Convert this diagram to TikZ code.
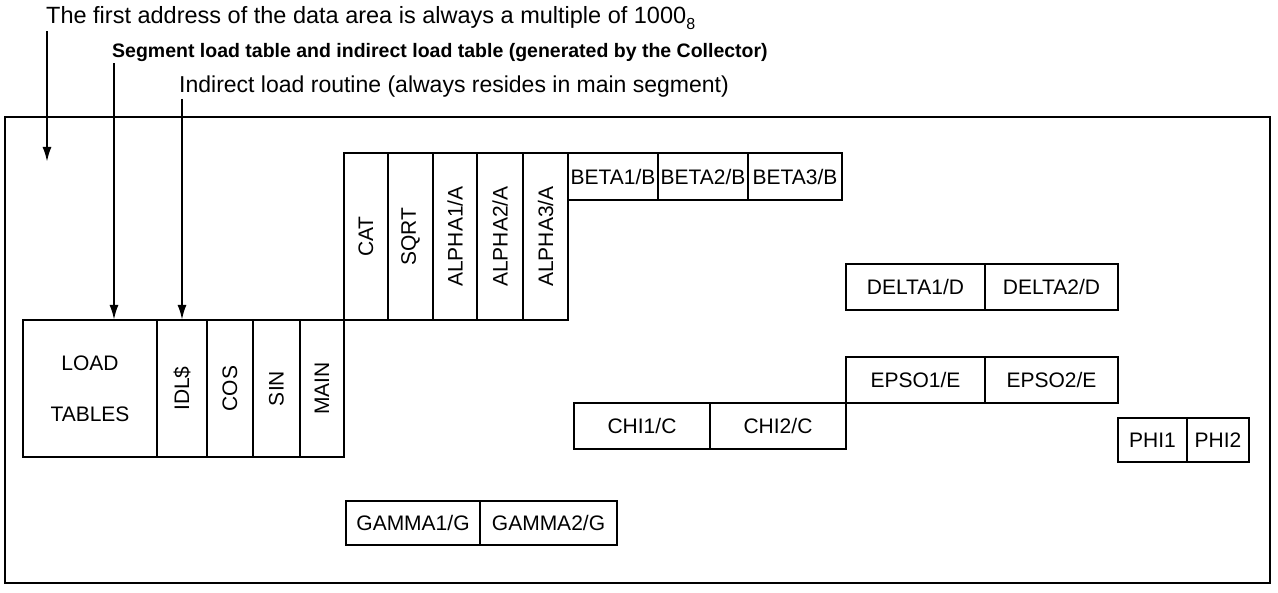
\documentclass[tikz,border=0pt]{standalone}
\usepackage{graphicx}
\usepackage{fontspec}
\setmainfont{Liberation Sans}
\usetikzlibrary{arrows.meta,positioning}
\newcommand\cellfont{\fontsize{21}{25}\selectfont}
\newcommand\up[1]{\rotatebox{90}{#1}}

\begin{document}
\begin{tikzpicture}[x=1pt, y=-1pt, node distance=0pt,
 cell/.style={draw, line width=1.3pt, inner sep=0pt, outer sep=0pt, align=center, font=\cellfont},
 low/.style={cell, minimum height=137pt},
 tall/.style={cell, minimum height=167pt},
 flat/.style={cell, minimum height=46pt},
 note/.style={anchor=base west, inner sep=1pt, font=\fontsize{23.5}{26}\selectfont},
 arr/.style={-{Latex[length=15pt,width=9pt]}, line width=2.2pt}]
\path[use as bounding box, fill=white] (0,0) rectangle (1278,593);
\draw[line width=1.3pt] (5,117) rectangle (1270,583);
% headings
\node[note] (first) at (45,24) {The first address of the data area is always a multiple of 1000\raisebox{-6pt}{\fontsize{16}{16}\selectfont 8}};
\node[note, font=\bfseries\fontsize{19.5}{22}\selectfont] (seg) at (111,58) {Segment load table and indirect load table (generated by the Collector)};
\node[note, font=\fontsize{23}{26}\selectfont] (idr) at (178,93) {Indirect load routine (always resides in main segment)};
% main segment
\node[low, minimum width=134pt, anchor=north west] (load) at (23,320) {LOAD\\[26pt]TABLES};
\node[low, minimum width=50pt, right=of load] (idl) {\up{IDL\$}};
\node[low, minimum width=46pt, right=of idl] (cos) {\up{COS}};
\node[low, minimum width=47pt, right=of cos] (sin) {\up{SIN}};
\node[low, minimum width=44pt, right=of sin] (main) {\up{MAIN}};
\node[tall, minimum width=44pt, anchor=south west] (cat) at (main.north east) {\up{CAT}};
\node[tall, minimum width=45pt, right=of cat] (sqrt) {\up{SQRT}};
\node[tall, minimum width=44pt, right=of sqrt] (alpha1) {\up{ALPHA1/A}};
\node[tall, minimum width=46pt, right=of alpha1] (alpha2) {\up{ALPHA2/A}};
\node[tall, minimum width=45pt, right=of alpha2] (alpha3) {\up{ALPHA3/A}};
\node[cell, minimum width=90pt, minimum height=47pt, anchor=north west] (beta1) at (alpha3.north east) {BETA1/B};
\node[cell, minimum width=90pt, minimum height=47pt, right=of beta1] (beta2) {BETA2/B};
\node[cell, minimum width=94pt, minimum height=47pt, right=of beta2] (beta3) {BETA3/B};
% overlays
\node[flat, minimum width=136pt, anchor=north west] (chi1) at (574,403) {CHI1/C};
\node[flat, minimum width=136pt, right=of chi1] (chi2) {CHI2/C};
\node[flat, minimum width=139pt, anchor=south west] (epso1) at (chi2.north east) {EPSO1/E};
\node[flat, minimum width=133pt, right=of epso1] (epso2) {EPSO2/E};
\node[flat, minimum width=139pt, anchor=north west] (delta1) at (846,264) {DELTA1/D};
\node[flat, minimum width=133pt, right=of delta1] (delta2) {DELTA2/D};
\node[cell, minimum width=69pt, minimum height=44pt, anchor=north west] (phi1) at (1118,418) {PHI1};
\node[cell, minimum width=62pt, minimum height=44pt, right=of phi1] (phi2) {PHI2};
\node[flat, minimum width=134pt, minimum height=44pt, anchor=north west] (gamma1) at (346,501) {GAMMA1/G};
\node[flat, minimum width=137pt, minimum height=44pt, right=of gamma1] (gamma2) {GAMMA2/G};
% pointers
\coordinate (areatip) at (47,162);
\draw[arr] (first.south west -| areatip) -- (areatip);
\draw[arr] ([xshift=3pt]seg.south west) -- ([xshift=3pt]seg.south west |- load.north);
\draw[arr] (idr.south west -| idl.north) -- (idl.north);
\end{tikzpicture}
\end{document}
